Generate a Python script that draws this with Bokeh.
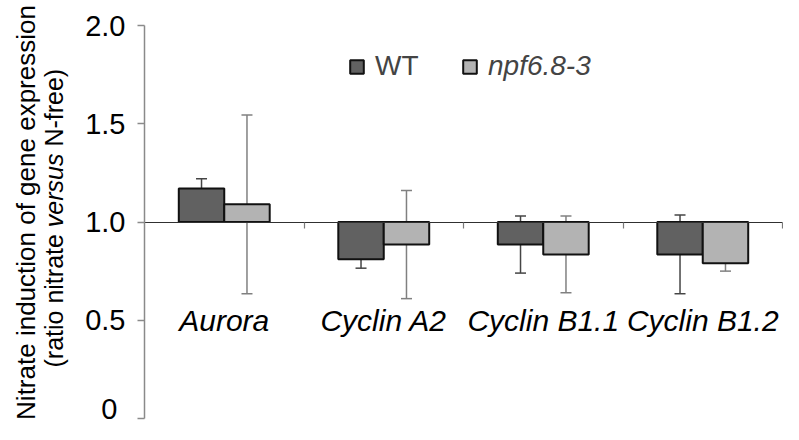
import math
from bokeh.plotting import figure
from bokeh.models import (Range1d, LinearAxis, FixedTicker, CustomJSTickFormatter,
                          Whisker, TeeHead, ColumnDataSource, Label, Legend, LegendItem)
from bokeh.core.properties import value
from bokeh.embed import file_html
from bokeh.resources import INLINE

# ---- data ----
categories = ["Aurora", "Cyclin A2", "Cyclin B1.1", "Cyclin B1.2"]
series_names = ["WT", "npf6.8-3"]
wt_values = [1.17, 0.81, 0.885, 0.835]
wt_errors = [0.05, 0.045, 0.145, 0.20]
npf_values = [1.09, 0.885, 0.835, 0.79]
npf_errors = [0.455, 0.275, 0.195, 0.04]
ytick_values = [0, 0.5, 1.0, 1.5, 2.0]
ytick_labels = ["0\u00a0", "0.5", "1.0", "1.5", "2.0"]
ylabel_line1 = "Nitrate induction of gene expression"
ylabel_line2 = ["(ratio nitrate\u00a0", "versus", "\u00a0N-free)"]

# ---- layout constants (pixels) ----
FONT = "Liberation Sans"
W, H = 783, 424
AX_LEFT, AX_RIGHT = 144, 782       # pixel x of category 0 and 4
AX_TOP, AX_BOTTOM = 25, 418        # pixel y of value 2.0 and 0
YMAX = 2.0
NCAT = len(categories)
BASE = 1.0
BAR_W = 0.285

sx = (AX_RIGHT - AX_LEFT) / NCAT
sy = (AX_BOTTOM - AX_TOP) / YMAX
x_range = Range1d(-AX_LEFT / sx, (W - AX_LEFT) / sx)
y_range = Range1d(-(H - AX_BOTTOM) / sy, YMAX + AX_TOP / sy)

centers = [i + 0.5 for i in range(NCAT)]
x_wt = [c - BAR_W / 2 for c in centers]
x_npf = [c + BAR_W / 2 for c in centers]

src_wt = ColumnDataSource(dict(x=x_wt, top=wt_values,
                               upper=[v + e for v, e in zip(wt_values, wt_errors)],
                               lower=[v - e for v, e in zip(wt_values, wt_errors)]))
src_npf = ColumnDataSource(dict(x=x_npf, top=npf_values,
                                upper=[v + e for v, e in zip(npf_values, npf_errors)],
                                lower=[v - e for v, e in zip(npf_values, npf_errors)]))

p = figure(width=W, height=H, output_backend="svg", toolbar_location=None,
           x_range=x_range, y_range=y_range,
           min_border_left=0, min_border_right=0, min_border_top=0, min_border_bottom=0,
           x_axis_type=None, y_axis_type=None)
p.outline_line_color = None
p.xgrid.visible = False
p.ygrid.visible = False
p.background_fill_color = "white"
p.border_fill_color = "white"

# y axis drawn at x = 0
yaxis = LinearAxis(ticker=FixedTicker(ticks=ytick_values), fixed_location=0, bounds=(0, YMAX),
                   major_label_overrides={v: l for v, l in zip(ytick_values, ytick_labels)})
yaxis.axis_line_color = "#8a8a8a"
yaxis.axis_line_width = 1.5
yaxis.major_tick_line_color = "#8a8a8a"
yaxis.major_tick_line_width = 1.5
yaxis.major_tick_out = 7
yaxis.major_tick_in = 0
yaxis.minor_tick_out = 0
yaxis.minor_tick_in = 0
yaxis.major_label_standoff = 12
yaxis.major_label_text_font = FONT
yaxis.major_label_text_font_size = "29px"
yaxis.major_label_text_color = "black"
p.add_layout(yaxis, "left")

# baseline axis at y = 1.0
xaxis = LinearAxis(ticker=FixedTicker(ticks=list(range(1, NCAT + 1))),
                   formatter=CustomJSTickFormatter(code="return ''"),
                   fixed_location=BASE, bounds=(0, NCAT))
xaxis.axis_line_color = "#303030"
xaxis.axis_line_width = 1.2
xaxis.major_tick_line_color = "#7a7a7a"
xaxis.major_tick_line_width = 1.2
xaxis.major_tick_out = 6
xaxis.major_tick_in = 0
xaxis.minor_tick_out = 0
xaxis.minor_tick_in = 0
xaxis.major_label_text_font_size = "1px"
p.add_layout(xaxis, "below")

r_wt = p.vbar(x="x", top="top", bottom=BASE, width=BAR_W, source=src_wt,
              fill_color="#616161", line_color="#111111", line_width=2)
r_npf = p.vbar(x="x", top="top", bottom=BASE, width=BAR_W, source=src_npf,
               fill_color="#b3b3b3", line_color="#111111", line_width=2)

for src, col in ((src_wt, "#454545"), (src_npf, "#808080")):
    w = Whisker(source=src, base="x", upper="upper", lower="lower", dimension="height",
                line_color=col, line_width=1.5,
                upper_head=TeeHead(size=11, line_color=col, line_width=1.5),
                lower_head=TeeHead(size=11, line_color=col, line_width=1.5))
    p.add_layout(w)

# category labels
p.text(x=centers, y=[0.5] * NCAT, text=categories,
       text_font=value(FONT), text_font_style="italic", text_font_size="30px",
       text_align="center", text_baseline="middle", text_color="black")

# legends (location = bottom-left corner, pixels from frame bottom-left)
leg1 = Legend(items=[LegendItem(label=series_names[0], renderers=[r_wt])],
              location=(348, H - 82), orientation="horizontal")
leg2 = Legend(items=[LegendItem(label=series_names[1], renderers=[r_npf])],
              location=(461, H - 82), orientation="horizontal")
for lg, style in ((leg1, "normal"), (leg2, "italic")):
    lg.glyph_width = 17
    lg.glyph_height = 17
    lg.label_standoff = 10
    lg.padding = 0
    lg.margin = 0
    lg.spacing = 0
    lg.border_line_alpha = 0
    lg.background_fill_alpha = 0
    lg.label_text_font = FONT
    lg.label_text_font_size = "28px"
    lg.label_text_font_style = style
    lg.label_text_baseline = "middle"
    p.add_layout(lg, "center")

# y-axis title (rotated)
p.add_layout(Label(x=25, y=H / 2, x_units="screen", y_units="screen", text=ylabel_line1,
                   angle=math.pi / 2, text_align="center", text_baseline="alphabetic",
                   text_font=FONT, text_font_size="26px", text_color="black"))
fs2 = 25
widths_em = [5.613, 2.945, 3.389]
ystart = H - 367
for part, style, wem in zip(ylabel_line2, ["normal", "italic", "normal"], widths_em):
    p.add_layout(Label(x=53, y=ystart, x_units="screen", y_units="screen", text=part,
                       angle=math.pi / 2, text_align="left", text_baseline="alphabetic",
                       text_font=FONT, text_font_size=f"{fs2}px", text_font_style=style,
                       text_color="black"))
    ystart += wem * fs2

open("out.html", "w").write(file_html(p, INLINE))
